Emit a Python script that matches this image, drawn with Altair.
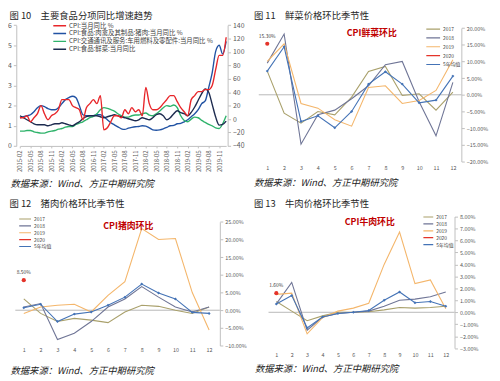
import altair as alt
import pandas as pd

FONT = "Noto Sans CJK SC"
SOURCE = "数据来源：Wind、方正中期研究院"
LABEL_GRAY = "#595959"
AXIS_GRAY = "#bfbfbf"

# ---------------- Figure 10 data ----------------
months10 = list(pd.date_range("2015-02-01", periods=60, freq="MS").strftime("%Y-%m"))
ticks10 = months10[::3]
names10 = [
    "CPI:当月同比 %",
    "CPI:食品:肉禽及其制品:猪肉:当月同比 %",
    "CPI:交通通讯及服务:车用燃料及零配件:当月同比 %",
    "CPI:食品:鲜菜:当月同比",
]
colors10 = ["#e8262a", "#2152a3", "#2fb36b", "#1d2b4f"]

cpi = [1.4, 1.4, 1.5, 1.2, 1.4, 1.6, 2.0, 1.6, 1.3, 1.5, 1.6,
       1.8, 2.3, 2.3, 2.3, 2.0, 1.9, 1.8, 1.3, 1.9, 2.1, 2.3, 2.1,
       2.5, 0.8, 0.9, 1.2, 1.5, 1.5, 1.4, 1.8, 1.6, 1.9, 1.7, 1.8,
       1.5, 2.9, 2.1, 1.8, 1.8, 1.9, 2.1, 2.3, 2.5, 2.5, 2.2, 1.9,
       1.7, 1.5, 2.3, 2.5, 2.7, 2.7, 2.8, 2.8, 3.0, 3.8, 4.5, 4.5,
       5.4]
pork_yoy = [2, 3.5, 5, 6.5, 11, 17, 20, 18.5, 15.5, 14, 14,
            17, 23, 29, 32, 34, 32, 20, 6.5, 5, 5, 5, 6.5,
            6.5, 3.5, -1, -5.5, -8.5, -11.5, -14.5, -15.4, -13.6, -12.4, -11.5, -11,
            -10, -10.6, -13, -16, -16.6, -16, -14.5, -12.4, -10, -9.4, -7, -6.4,
            -4, -1, 3.5, 8, 14, 23, 27, 47, 69, 101, 110, 97,
            116]
fuel_yoy = [-18, -18, -17, -17, -19, -20, -21, -21, -19, -18, -17,
            -15, -14, -12, -11, -11, -8, -6, -4, -1, 2, 4, 8,
            14, 17, 16, 14, 12, 8, 5, 3, 3, 5, 6, 6,
            8, 9, 6, 5, 8, 12, 17, 20, 19, 21, 17, 5,
            -2, -4, 0, 3, 2, -2, -5, -8, -10, -13, -14, -7,
            5]
veg_yoy = [5, 2, -1, -4, -7, -8.5, -8.5, -8.5, -10, -8.5, -7,
           -7, -5.5, -7, -8.5, -10, -7, -4, 0.5, 3.5, 5, 5, 5,
           3.5, 2, 3.5, 5, 6.5, 5, 3.5, 2, 0.5, -1, -2.5, -1,
           2, 0.5, -1, 2, 6.5, 8, 5, -1, 2, 8, 12.5, 9.5,
           8, 5, 10, 18, 28, 38, 45, 40, 22, 3, -9, -8,
           -3]

# ---------------- Seasonal panels data ----------------
months12 = list(range(1, 13))
series_names = ["2017", "2018", "2019", "2020", "5年均值"]
series_colors = ["#a9a06b", "#6f7596", "#f4b66b", "#e4342a", "#4473b6"]

veg_2017 = [7.1, -5.5, -8.5, -5.0, -6.0, -0.7, 7.0, 8.5, -0.2, 0.3, -4.6, 0.8]
veg_2018 = [9.5, 18.2, -14.8, -6.0, -4.6, -1.2, 2.7, 9.0, 10.0, -2.1, -12.3, 3.7]
veg_2019 = [10.0, 15.3, -2.6, -4.0, -7.5, -9.4, 2.2, 2.7, -2.6, -1.7, 1.3, 10.5]
veg_avg = [7.1, 14.4, -8.0, -6.3, -9.9, -5.0, 3.2, 6.9, 3.2, -2.4, -1.6, 5.6]
veg_2020 = [15.3]

pork_2017 = [3.2, -0.9, -3.2, -2.3, -2.8, -3.5, -0.5, 1.4, 1.1, 0.0, -0.9, 0.9]
pork_2018 = [0.9, 1.9, -8.3, -6.5, -3.2, 0.9, 3.2, 6.7, 3.7, 0.9, -0.5, 0.9]
pork_2019 = [-0.9, 0.9, 1.4, 1.7, -0.5, 4.2, 8.1, 23.1, 20.0, 20.3, 5.0, -5.6]
pork_avg = [0.7, 1.7, -3.2, -1.1, -0.5, 1.4, 3.7, 7.4, 4.9, 3.2, -0.6, -0.9]
pork_2020 = [8.5]

beef_2017 = [0.9, 0.1, -0.7, -0.3, 0.0, 0.0, 0.05, 0.2, 0.4, 0.35, 0.4, 0.5]
beef_2018 = [0.7, 2.5, -1.5, -0.4, -0.1, 0.0, 0.1, 0.5, 1.0, 1.1, 1.3, 1.7]
beef_2019 = [1.5, 1.6, -1.8, -0.45, 0.1, 0.35, 0.75, 4.0, 6.7, 2.4, 2.7, 0.3]
beef_avg = [0.7, 1.4, -1.3, -0.4, -0.1, 0.0, 0.15, 1.0, 1.7, 0.8, 0.9, 0.5]
beef_2020 = [1.6]

# ---------------- layout helpers (reference pixel -> chart pixel) ----------------
W, H = 492, 373


def px(v):
    return 0.5 + (v - 5) * 0.99


def py(v):
    return 0.5 + (v - 3) * 0.99


def text_layer(text, x, y, size, align="left", style="normal", weight="normal", color="#262626"):
    return alt.Chart(pd.DataFrame({"t": [text]})).mark_text(
        align=align, baseline="middle", fontSize=size, fontStyle=style, fontWeight=weight,
        color=color).encode(x=alt.value(px(x)), y=alt.value(py(y)), text="t:N")


layers = []

# ---------------- Figure 10 ----------------
df10_left = pd.DataFrame({"month": months10, "value": cpi, "s": names10[0]})
df10_right = pd.concat(
    [pd.DataFrame({"month": months10, "value": v, "s": n})
     for v, n in zip([pork_yoy, fuel_yoy, veg_yoy], names10[1:])],
    ignore_index=True)

xs10 = alt.Scale(type="point", domain=months10, range=[px(16.8), px(228.5)], padding=0)
ys10_left = alt.Scale(domain=[0, 6], range=[py(141), py(17)], nice=False, zero=False)
ys10_right = alt.Scale(domain=[-40, 140], range=[py(141), py(17)], nice=False, zero=False)
color_scale10 = alt.Scale(domain=names10, range=colors10)
legend10 = alt.Legend(orient="none", legendX=px(50), legendY=py(17.5) - 3.6, title=None,
                      symbolType="stroke", symbolSize=169, symbolStrokeWidth=1.5,
                      labelFontSize=6.5, labelColor="#404040", clipHeight=7.2, rowPadding=0,
                      labelOffset=2, labelLimit=400, padding=0)

right10 = alt.Chart(df10_right).mark_line(strokeWidth=1.4, interpolate="monotone").encode(
    x=alt.X("month:O", scale=xs10,
            axis=alt.Axis(orient="bottom", offset=py(141) - H, values=ticks10, labelAngle=-90,
                          labelFontSize=6, labelColor=LABEL_GRAY, tickSize=2, tickColor=AXIS_GRAY,
                          domainColor=AXIS_GRAY, labelPadding=2, title=None, grid=False)),
    y=alt.Y("value:Q", scale=ys10_right,
            axis=alt.Axis(orient="right", offset=px(230) - W, values=list(range(-40, 141, 20)),
                          grid=False, title=None, labelFontSize=7, labelColor=LABEL_GRAY,
                          tickSize=3, tickColor=AXIS_GRAY, domainColor=AXIS_GRAY, labelPadding=2)),
    color=alt.Color("s:N", scale=color_scale10, legend=legend10),
)
left10 = alt.Chart(df10_left).mark_line(strokeWidth=1.4, interpolate="monotone").encode(
    x=alt.X("month:O", scale=xs10, axis=None),
    y=alt.Y("value:Q", scale=ys10_left,
            axis=alt.Axis(orient="left", offset=-px(13), values=list(range(0, 7)), grid=False,
                          title=None, labelFontSize=7, labelColor=LABEL_GRAY, tickSize=3,
                          tickColor=AXIS_GRAY, domainColor=AXIS_GRAY, labelPadding=2)),
    color=alt.Color("s:N", scale=color_scale10, legend=None),
)
layers += [right10, left10,
           text_layer("图 10\u3000主要食品分项同比增速趋势", 6, 7.5, 9.5),
           text_layer(SOURCE, 7, 180, 9.5, style="italic", color="#222222")]


# ---------------- Seasonal panels ----------------
def seasonal(s2017, s2018, s2019, savg, s2020, ydomain, ystep, xr, yr, axis_x, zero_x,
             label_pad, leg_x, leg_y0, sym_len, row_h, title, title_xy, source_xy,
             cpi_label, cpi_xy):
    df_lines = pd.concat(
        [pd.DataFrame({"month": months12, "value": v, "s": n})
         for v, n in zip([s2017, s2018, s2019, savg], ["2017", "2018", "2019", "5年均值"])],
        ignore_index=True)
    df_avg = pd.DataFrame({"month": months12, "value": savg, "c": series_colors[4]})
    df_2020 = pd.DataFrame({"month": months12[:len(s2020)], "value": s2020, "c": series_colors[3]})
    df_zero = pd.DataFrame({"value": [0]})

    xs = alt.Scale(type="point", domain=months12, range=[px(xr[0]), px(xr[1])], padding=0)
    ys = alt.Scale(domain=ydomain, range=[py(yr[0]), py(yr[1])], nice=False, zero=False)
    tick_vals = list(range(ydomain[0], ydomain[1] + 1, ystep))

    x_axis = alt.X("month:O", scale=xs,
                   axis=alt.Axis(orient="bottom", offset=py(yr[0]) - H, labelAngle=0,
                                 labelFontSize=5.5, labelColor=LABEL_GRAY, domain=False,
                                 ticks=False, labelPadding=label_pad, title=None, grid=False))
    x_plain = alt.X("month:O", scale=xs, axis=None)
    y_axis = alt.Y("value:Q", scale=ys,
                   axis=alt.Axis(orient="right", offset=px(axis_x) - W, values=tick_vals,
                                 grid=False, title=None,
                                 labelExpr="format(datum.value, '.2f') + '%'",
                                 labelFontSize=5.5, labelColor=LABEL_GRAY, tickSize=3,
                                 tickColor=AXIS_GRAY, domainColor=AXIS_GRAY, labelPadding=2))
    y_plain = alt.Y("value:Q", scale=ys, axis=None)

    legend = alt.Legend(orient="none", legendX=px(leg_x), legendY=py(leg_y0) - row_h / 2,
                        title=None, symbolType="stroke", symbolSize=sym_len * sym_len,
                        symbolStrokeWidth=1.2, labelFontSize=5, labelColor="#404040",
                        clipHeight=row_h, rowPadding=0, labelOffset=2, padding=0)
    color = alt.Color("s:N", scale=alt.Scale(domain=series_names, range=series_colors),
                      legend=legend)

    zero = alt.Chart(df_zero).mark_rule(color="#a6a6a6", strokeWidth=0.8).encode(
        x=alt.value(px(zero_x[0])), x2=alt.value(px(zero_x[1])), y=y_plain)
    lines = alt.Chart(df_lines).mark_line(strokeWidth=1.1).encode(x=x_axis, y=y_axis, color=color)
    avg_pts = alt.Chart(df_avg).mark_point(shape="diamond", filled=True, size=9, opacity=1).encode(
        x=x_plain, y=y_plain, color=alt.Color("c:N", scale=None))
    pts2020 = alt.Chart(df_2020).mark_point(shape="circle", filled=True, size=18, opacity=1).encode(
        x=x_plain, y=y_plain, color=alt.Color("c:N", scale=None))
    lab2020 = alt.Chart(df_2020).transform_calculate(
        lbl="format(datum.value, '.2f') + '%'").mark_text(
        fontSize=5, dy=-8, color="#404040").encode(x=x_plain, y=y_plain, text="lbl:N")
    return [zero, lines, avg_pts, pts2020, lab2020,
            text_layer(cpi_label, cpi_xy[0], cpi_xy[1], 9, align="center", weight="bold",
                       color="#c00000"),
            text_layer(title, title_xy[0], title_xy[1], 9.5),
            text_layer(SOURCE, source_xy[0], source_xy[1], 9.5, style="italic", color="#222222")]


layers += seasonal(veg_2017, veg_2018, veg_2019, veg_avg, veg_2020, [-20, 20], 5,
                   (270.7, 461.3), (157, 20), 470, (262, 470), 4, 433, 21, 14, 8.5,
                   "图 11\u3000鲜菜价格环比季节性", (257, 7.5), (257, 179),
                   "CPI鲜菜环比", (378, 25))
layers += seasonal(pork_2017, pork_2018, pork_2019, pork_avg, pork_2020, [-10, 25], 5,
                   (20.7, 211), (346, 219), 222, (12, 222), 2, 15, 216, 12, 7,
                   "图 12\u3000猪肉价格环比季节性", (6, 201), (7, 372),
                   "CPI猪肉环比", (128, 223))
layers += seasonal(beef_2017, beef_2018, beef_2019, beef_avg, beef_2020, [-3, 8], 1,
                   (280, 454), (348.7, 213.5), 463, (272, 463), 4, 430, 214, 10, 6.8,
                   "图 13\u3000牛肉价格环比季节性", (257, 201), (258, 370),
                   "CPI牛肉环比", (376, 219))

chart = alt.layer(*layers).resolve_scale(
    x="independent", y="independent", color="independent"
).properties(
    width=W, height=H,
    autosize=alt.AutoSizeParams(type="none"),
    padding=0,
).configure_view(stroke=None).configure_axis(
    labelFont=FONT, titleFont=FONT
).configure_legend(labelFont=FONT).configure_text(font=FONT)

chart.save("out.html", embed_options={"renderer": "svg", "actions": False})
